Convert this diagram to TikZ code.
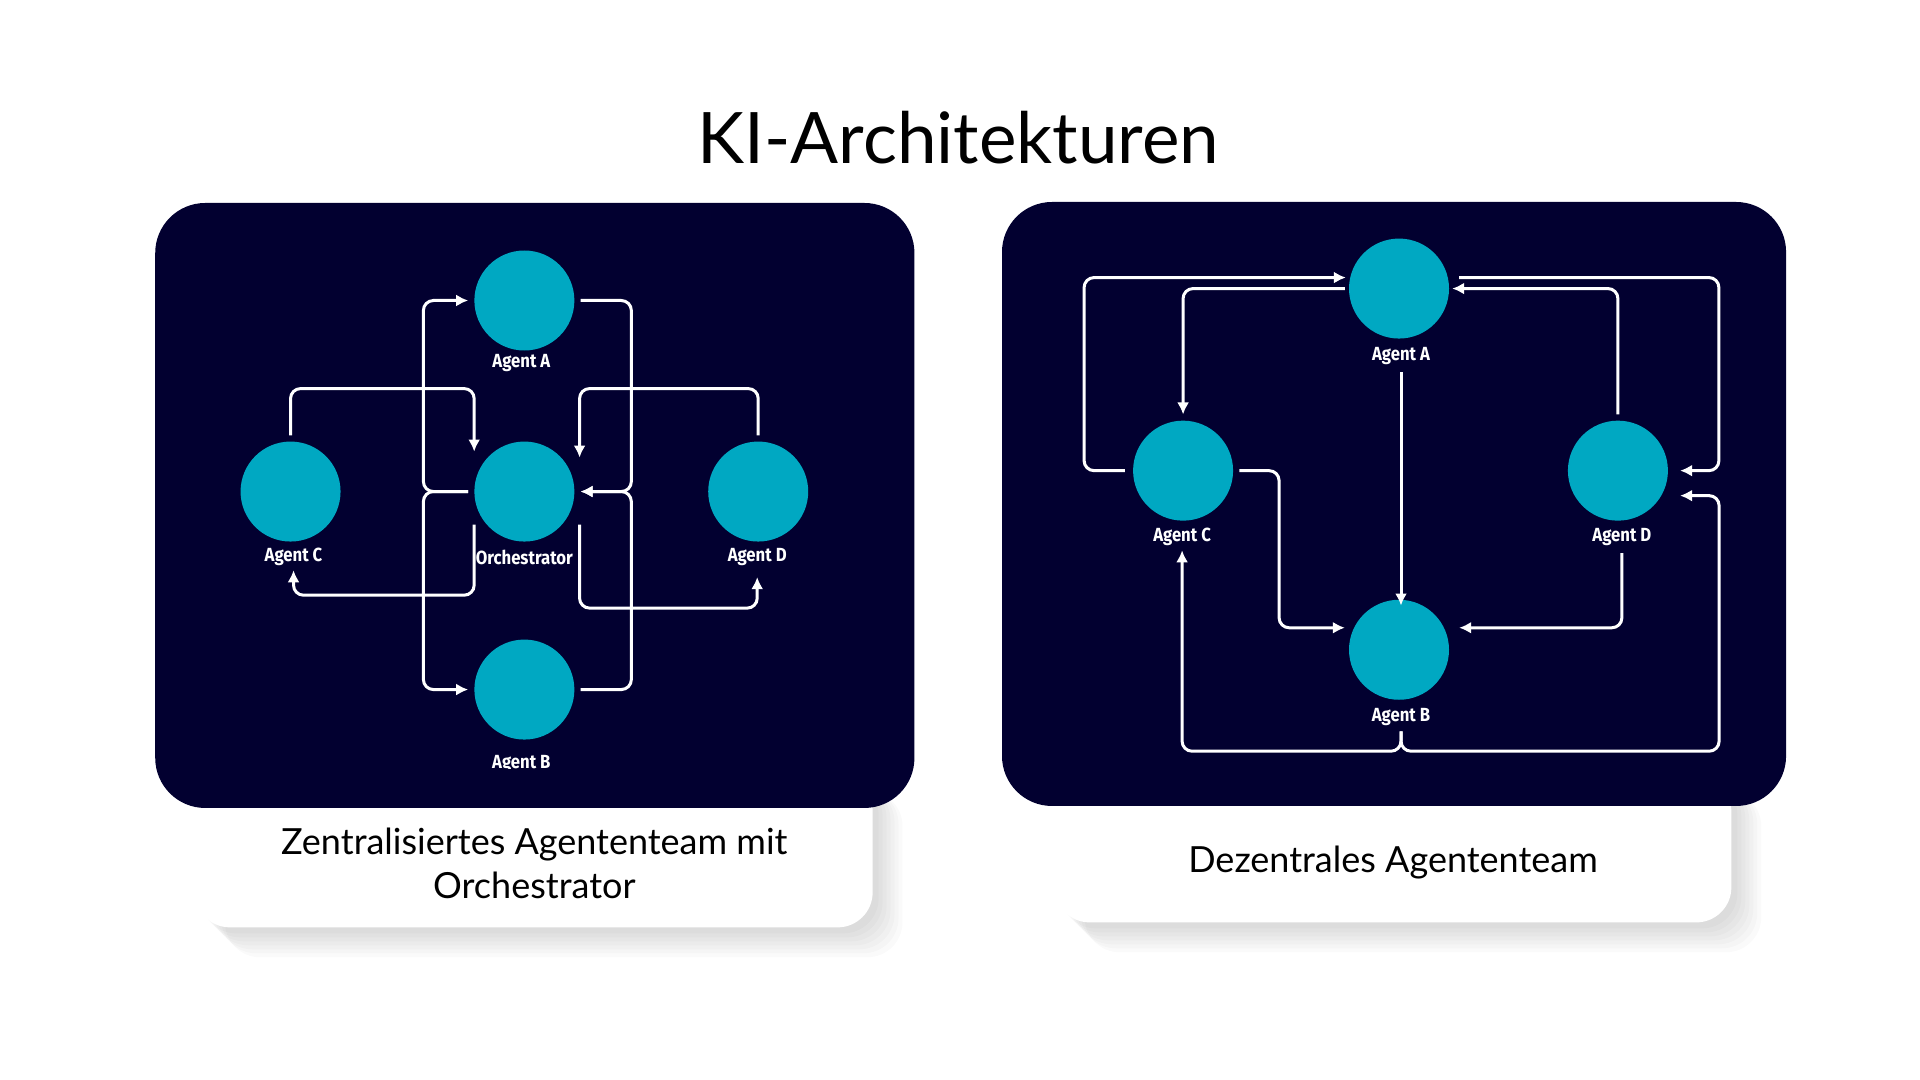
\documentclass[tikz,border=0pt]{standalone}
\usepackage{fontspec}
\setmainfont{Lato}
\newfontfamily\agentfont[FakeStretch=0.88]{Fira Sans}
\usetikzlibrary{arrows.meta}
\definecolor{navy}{RGB}{2,0,48}
\definecolor{agentteal}{RGB}{0,168,194}

\begin{document}
\begin{tikzpicture}[x=0.995pt,y=-0.995pt,
    agent/.style={circle,fill=agentteal,minimum size=100pt,inner sep=0pt},
    tag/.style={font=\agentfont\bfseries\fontsize{19}{19}\selectfont,text=white,inner sep=1pt},
    link/.style={draw=white,line width=3pt,rounded corners=10pt,-{Latex[length=12pt,width=12pt]}},
    panel/.style={fill=navy,rounded corners=50pt},
    card/.style={fill=white,rounded corners=35pt},
    cardtext/.style={font=\fontsize{36}{44}\selectfont,align=center,anchor=base}]
    \useasboundingbox[fill=white] (0,0) rectangle (1929.6,1085.4);

    \node[anchor=base] (title) at (963,164) {\fontsize{71}{71}\selectfont KI-Architekturen};

    \foreach \s in {6,10,...,30}
      \fill[black,opacity=0.02,rounded corners=35pt] (196+\s,780+\s/2) rectangle (877+\s,932+\s);
    \foreach \s in {6,10,...,30}
      \fill[black,opacity=0.02,rounded corners=35pt] (1060+\s,780+\s/2) rectangle (1740+\s,927+\s);
    \fill[card] (196,780) rectangle (877,932);
    \fill[card] (1060,780) rectangle (1740,927);
    \node[cardtext] (lcap) at (537,903) {Zentralisiertes Agententeam mit\\Orchestrator};
    \node[cardtext] (rcap) at (1400,877) {Dezentrales Agententeam};

    \fill[panel] (156,204) rectangle (919,812);
    \fill[panel] (1007,203) rectangle (1795,810);

    \node[agent] (lA) at (527,302) {};
    \node[agent] (lO) at (527,494) {};
    \node[agent] (lC) at (292,494) {};
    \node[agent] (lD) at (762,494) {};
    \node[agent] (lB) at (527,693) {};
    \node[tag] (lAt) at (524,365) {Agent A};
    \node[tag] (lOt) at (527,560) {Orchestrator};
    \node[tag] (lCt) at (295,560) {Agent C};
    \node[tag] (lDt) at (761,560) {Agent D};
    \begin{scope}
      \clip (156,204) rectangle (919,772);
      \node[tag] (lBt) at (524,768) {Agent B};
    \end{scope}

    \draw[link] ([xshift=-6pt]lO.west) -- ++(-45,0) |- ([xshift=-6pt]lA.west);
    \draw[link] ([xshift=-6pt]lO.west) -- ++(-45,0) |- ([xshift=-6pt]lB.west);
    \draw[link] ([xshift=6pt]lA.east) -- ++(51,0) |- ([xshift=6pt]lO.east);
    \draw[link] ([xshift=6pt]lB.east) -- ++(51,0) |- ([xshift=6pt]lO.east);
    \draw[link] ([yshift=6pt]lC.north) -- ++(0,-47) -| ([yshift=40pt]lO.west);
    \draw[link] ([yshift=6pt]lD.north) -- ++(0,-47) -| ([xshift=5pt,yshift=34pt]lO.east);
    \draw[link] ([yshift=-33pt]lO.west) -- ++(0,71) -| ([yshift=-3pt]lCt.south);
    \draw[link] ([xshift=5pt,yshift=-33pt]lO.east) -- ++(0,84) -| ([yshift=-10pt]lDt.south);

    \node[agent] (rA) at (1406,290) {};
    \node[agent] (rC) at (1189,473) {};
    \node[agent] (rD) at (1626,473) {};
    \node[agent] (rB) at (1406,653) {};
    \node[tag] (rAt) at (1408,358) {Agent A};
    \node[tag] (rCt) at (1188,540) {Agent C};
    \node[tag] (rDt) at (1630,540) {Agent D};
    \node[tag] (rBt) at (1408,721) {Agent B};

    \draw[link] ([xshift=-8pt]rC.west) -- ++(-41,0) |- ([xshift=-3pt,yshift=11pt]rA.west);
    \draw[link] ([xshift=-4pt]rA.west) -| ([yshift=6pt]rC.north);
    \draw[link] ([xshift=10pt,yshift=11pt]rA.east) -- ++(261,0) |- ([xshift=12pt]rD.east);
    \draw[link] ([yshift=6pt]rD.north) |- ([xshift=3pt]rA.east);
    \draw[link] ([yshift=-6pt]rAt.south) -- ([yshift=-6pt]rAt.south |- rB.north);
    \draw[link] ([xshift=6pt]rC.east) -- ++(40,0) |- ([xshift=-4pt,yshift=22pt]rB.west);
    \draw[link] ([yshift=-6pt]rDt.south) |- ([xshift=10pt,yshift=22pt]rB.east);
    \draw[link] ([yshift=-4pt]rBt.south) -- ++(0,20) -| ([yshift=-3pt]rCt.south);
    \draw[link] ([yshift=-4pt]rBt.south) -- ++(0,20) -| ([xshift=51pt,yshift=-25pt]rD.east)
      -- ([xshift=12pt,yshift=-25pt]rD.east);
\end{tikzpicture}
\end{document}
